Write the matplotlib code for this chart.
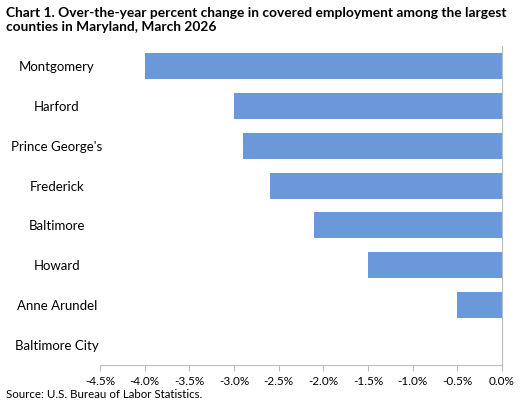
import matplotlib
matplotlib.use("Agg")
import matplotlib.pyplot as plt

counties = ["Montgomery", "Harford", "Prince George's", "Frederick", "Baltimore", "Howard", "Anne Arundel", "Baltimore City"]
values = [-4.0, -3.0, -2.9, -2.6, -2.1, -1.5, -0.5, 0.0]
xticks = [-4.5, -4.0, -3.5, -3.0, -2.5, -2.0, -1.5, -1.0, -0.5, 0.0]

plt.rcParams['font.family'] = ['Lato', 'DejaVu Sans']
fig = plt.figure(figsize=(5.25, 4.03), dpi=100)
ax = fig.add_axes([100/525, 1-365/403, 402/525, (365-46)/403])
y = list(range(len(counties)))
ax.barh(y, values, height=0.65, color="#6a98d8")
ax.set_ylim(len(counties)-0.5, -0.5)
ax.set_xlim(-4.5, 0)
ax.set_xticks(xticks)
ax.set_xticklabels([f"{v:.1f}%" for v in xticks], fontsize=8.5)
ax.set_yticks(y)
ax.set_yticklabels(counties, fontsize=9.5, ha="center")
ax.tick_params(axis='y', length=0, pad=31)
ax.tick_params(axis='x', length=4, color="#bbbbbb", pad=4)
for s in ["top", "left"]:
    ax.spines[s].set_visible(False)
ax.spines["bottom"].set_color("#bbbbbb")
ax.spines["right"].set_color("#bbbbbb")
fig.text(6/525, 1-20/403, "Chart 1. Over-the-year percent change in covered employment among the largest\ncounties in Maryland, March 2026",
         fontsize=9.9, fontweight="bold", va="center", ha="left", linespacing=1.25)
fig.text(6/525, 1-395/403, "Source: U.S. Bureau of Labor Statistics.", fontsize=8.3, va="center")
fig.savefig("out.png", dpi=100)
